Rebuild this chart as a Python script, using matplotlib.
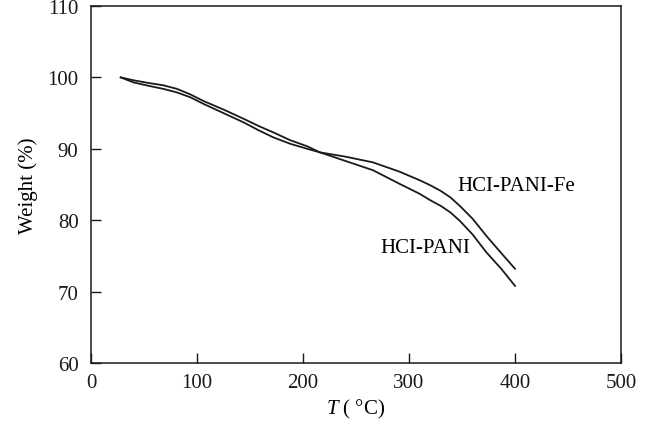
import matplotlib
matplotlib.use("Agg")
import matplotlib.pyplot as plt

# HCl-PANI-Fe
t_fe = [28, 40, 55, 68, 81, 94, 106, 125, 144, 158, 172, 188, 204, 216, 240, 266, 291, 310, 320, 330, 339, 348, 360, 373, 387, 400]
w_fe = [100.0, 99.3, 98.8, 98.4, 97.9, 97.2, 96.3, 95.0, 93.7, 92.6, 91.6, 90.7, 90.0, 89.5, 88.9, 88.1, 86.8, 85.6, 84.9, 84.1, 83.2, 82.0, 80.2, 77.8, 75.4, 73.2]

# HCl-PANI
t_pani = [28, 40, 55, 68, 81, 94, 106, 125, 144, 158, 172, 188, 204, 216, 240, 266, 291, 310, 320, 330, 339, 348, 360, 373, 387, 400]
w_pani = [100.0, 99.6, 99.2, 98.9, 98.4, 97.6, 96.7, 95.5, 94.2, 93.2, 92.3, 91.2, 90.35, 89.5, 88.3, 87.0, 85.1, 83.7, 82.8, 82.0, 81.1, 79.9, 78.0, 75.5, 73.2, 70.8]

xticks = [0, 100, 200, 300, 400, 500]
yticks = [60, 70, 80, 90, 100, 110]

plt.rcParams['font.family'] = ['Liberation Serif', 'DejaVu Serif']
plt.rcParams['mathtext.fontset'] = 'custom'
plt.rcParams['mathtext.it'] = 'Liberation Serif:italic'
plt.rcParams['mathtext.rm'] = 'Liberation Serif'

fig = plt.figure(figsize=(6.45, 4.27), dpi=100)
ax = fig.add_axes([91/645, 1 - 364/427, (621-91)/645, (364-7)/427])

ax.plot(t_fe, w_fe, color='#1a1a1a', lw=1.3)
ax.plot(t_pani, w_pani, color='#1a1a1a', lw=1.3)

ax.set_xlim(0, 500)
ax.set_ylim(60, 110)
ax.set_xticks(xticks)
ax.set_yticks(yticks)
ax.tick_params(direction='in', length=7, width=1, labelsize=15, colors='#1a1a1a')
ax.tick_params(axis='x', pad=7)
ax.tick_params(axis='y', pad=9)
for s in ax.spines.values():
    s.set_linewidth(1.1)
    s.set_color('#1a1a1a')

ax.set_xlabel(r'$T$ ( $\degree$C)', fontsize=15, labelpad=4)
ax.set_ylabel('Weight (%)', fontsize=15, labelpad=7)

ax.text(346, 84.9, 'HCI-PANI-Fe', fontsize=15, va='center', ha='left')
ax.text(273, 76.2, 'HCI-PANI', fontsize=15, va='center', ha='left')

fig.savefig('out.png', dpi=100)
